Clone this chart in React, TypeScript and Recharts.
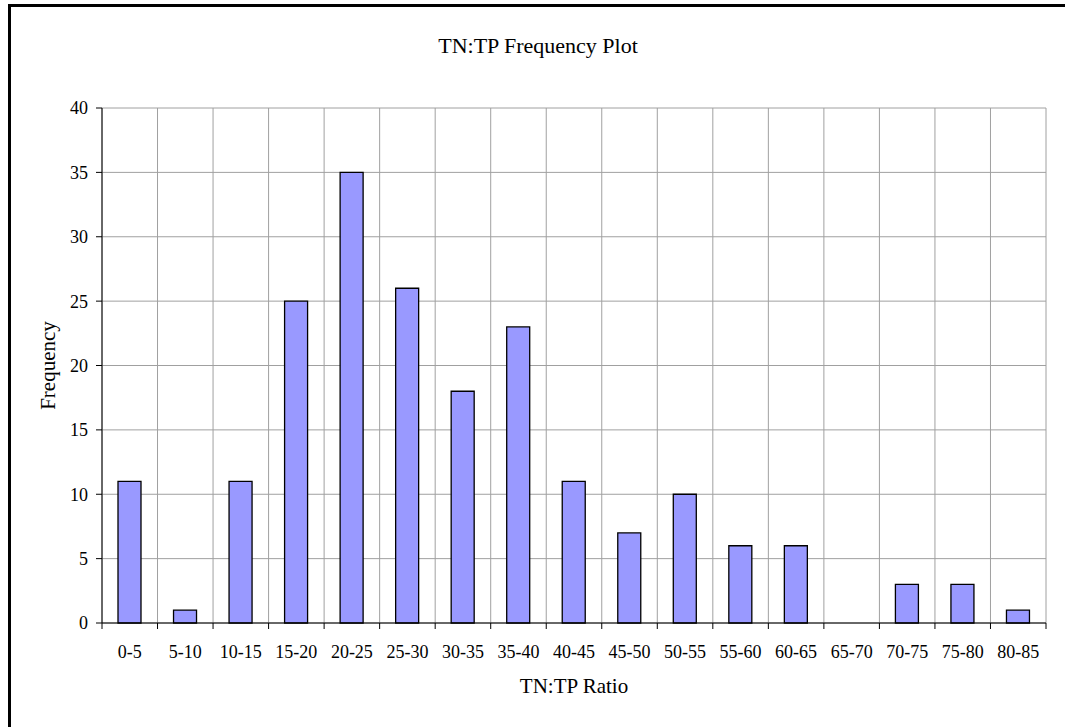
import { Bar, BarChart, CartesianGrid, XAxis, YAxis } from 'recharts';

const ranges = ['0-5', '5-10', '10-15', '15-20', '20-25', '25-30', '30-35', '35-40', '40-45', '45-50', '50-55', '55-60', '60-65', '65-70', '70-75', '75-80', '80-85'];
const frequency = [11, 1, 11, 25, 35, 26, 18, 23, 11, 7, 10, 6, 6, 0, 3, 3, 1];
const yTicks = [0, 5, 10, 15, 20, 25, 30, 35, 40];

const data = ranges.map((range, i) => ({ range, count: frequency[i] }));

const font = '"Liberation Serif", serif';
const TICK_GAP = 22;

// label in the middle of each category, tick marks on the category edges
function RangeTick(props: any) {
  const { x, y, payload } = props;
  const half = payload.offset || 0;
  const axisY = y - TICK_GAP;
  const last = payload.index === ranges.length - 1;
  return (
    <g>
      <line x1={x - half} x2={x - half} y1={axisY} y2={axisY + 6} stroke="#000" />
      {last && <line x1={x + half} x2={x + half} y1={axisY} y2={axisY + 6} stroke="#000" />}
      <text x={x} y={y} dy="0.71em" textAnchor="middle" fill="#000" fontSize={18} fontFamily={font}>
        {payload.value}
      </text>
    </g>
  );
}

export default function App() {
  return (
    <div style={{ position: 'fixed', left: 0, top: 0, width: 1065, height: 727, overflow: 'hidden', background: '#fff', fontFamily: font }}>
      <div style={{ position: 'absolute', left: 8, top: 4, width: 1070, height: 740, border: '3px solid #000' }} />
      <div style={{ position: 'absolute', left: 0, top: 33, width: 1076, textAlign: 'center', fontSize: 22, color: '#000' }}>
        TN:TP Frequency Plot
      </div>
      <div style={{ position: 'absolute', left: 0, top: 0 }}>
        <BarChart width={1065} height={727} data={data} margin={{ top: 108, right: 19, bottom: 64, left: 42 }}>
          <CartesianGrid
            stroke="#a0a0a0"
            verticalCoordinatesGenerator={({ offset }: any) =>
              ranges.map((_, i) => offset.left + (i * offset.width) / ranges.length).concat(offset.left + offset.width)
            }
          />
          <XAxis
            dataKey="range"
            height={40}
            stroke="#000"
            tickLine={false}
            tickSize={0}
            tickMargin={TICK_GAP}
            interval={0}
            tick={<RangeTick />}
            label={{ value: 'TN:TP Ratio', position: 'bottom', offset: 15, fill: '#000', fontSize: 21, fontFamily: font }}
          />
          <YAxis
            domain={[0, 40]}
            ticks={yTicks}
            width={60}
            tickSize={6}
            tickMargin={8}
            stroke="#000"
            tick={{ fill: '#000', fontSize: 18, fontFamily: font }}
            label={{ value: 'Frequency', angle: -90, position: 'insideLeft', offset: 6, fill: '#000', fontSize: 21, fontFamily: font, style: { textAnchor: 'middle' } }}
          />
          <Bar dataKey="count" fill="#9999ff" stroke="#000" strokeWidth={1.3} barSize={23} isAnimationActive={false} />
        </BarChart>
      </div>
    </div>
  );
}
